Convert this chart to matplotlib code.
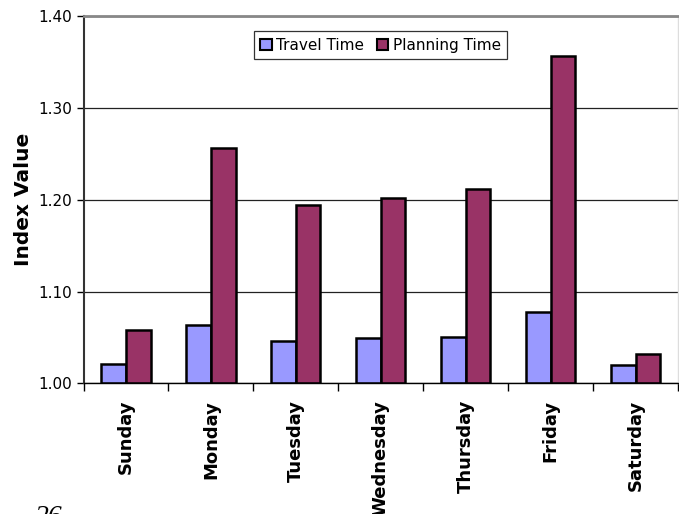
import numpy as np
import matplotlib
matplotlib.use("Agg")
import matplotlib.pyplot as plt

# Index values per day of week
days = ['Sunday', 'Monday', 'Tuesday', 'Wednesday', 'Thursday', 'Friday', 'Saturday']
travel_time = [1.021, 1.064, 1.046, 1.049, 1.050, 1.078, 1.020]
planning_time = [1.058, 1.257, 1.194, 1.202, 1.212, 1.357, 1.032]

base = 1.00
x = np.arange(len(days))
w = 0.29

fig = plt.figure(figsize=(6.79, 5.14), dpi=100)
ax = fig.add_axes([0.123, 0.2543, 0.8755, 0.7137])

ax.set_axisbelow(True)
ax.yaxis.grid(True, color='#222222', linewidth=0.9)

ax.bar(x - w / 2, np.array(travel_time) - base, w, bottom=base,
       color='#9999FF', edgecolor='black', linewidth=1.8, label='Travel Time')
ax.bar(x + w / 2, np.array(planning_time) - base, w, bottom=base,
       color='#993366', edgecolor='black', linewidth=1.8, label='Planning Time')

ax.set_xlim(-0.5, len(days) - 0.5)
ax.set_ylim(1.00, 1.40)
ax.set_yticks([1.00, 1.10, 1.20, 1.30, 1.40])
ax.set_yticklabels(['1.00', '1.10', '1.20', '1.30', '1.40'], fontsize=11)
ax.tick_params(axis='y', direction='out', length=5, width=1, pad=3)

ax.set_xticks(x)
ax.set_xticklabels(days, rotation=90, fontsize=13, fontweight='bold')
ax.tick_params(axis='x', which='major', length=0, pad=12)
ax.set_xticks(np.arange(-0.5, len(days), 1.0), minor=True)
ax.tick_params(axis='x', which='minor', direction='out', length=6, width=1)

ax.set_ylabel('Index Value', fontsize=14.5, fontweight='bold', labelpad=4)

ax.spines['left'].set_color('#333333')
ax.spines['left'].set_linewidth(1.5)
ax.spines['bottom'].set_color('black')
ax.spines['bottom'].set_linewidth(1)
ax.spines['top'].set_color('#888888')
ax.spines['top'].set_linewidth(2)
ax.spines['right'].set_color('#dddddd')
ax.spines['right'].set_linewidth(1)

leg = ax.legend(loc='upper left', bbox_to_anchor=(0.287, 0.959), ncol=2,
                fontsize=11, frameon=True, fancybox=False, edgecolor='black',
                borderaxespad=0, handlelength=0.75, handleheight=0.75,
                handletextpad=0.3, columnspacing=0.8, borderpad=0.4)
leg.get_frame().set_linewidth(0.9)
for h in leg.legend_handles:
    h.set_linewidth(1.5)

# page number below the chart
fig.text(0.052, 0.018, '26', fontsize=20, family='Liberation Serif',
         style='italic', ha='left', va='top')

fig.savefig('out.png', dpi=100)
